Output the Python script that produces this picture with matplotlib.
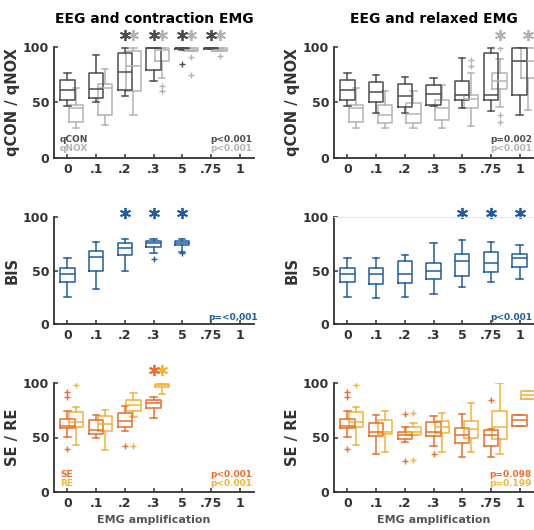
import matplotlib
matplotlib.use("Agg")
import matplotlib.pyplot as plt

plt.rcParams["font.family"] = ["DejaVu Sans"]
plt.rcParams["font.weight"] = "bold"

labels = ["0", ".1", ".2", ".3", "5", ".75", "1"]

# box stats per category: [whislo, q1, med, q3, whishi], None = no box
qcon_contr = [[47, 52, 61, 70.5, 76.5], [50, 54, 62, 77, 92.5], [56, 61.5, 77.5, 94.5, 99.5],
              [69.5, 79, 99, 99.2, 99.5], [97, 98, 99, 99.3, 99.6], [98, 98.5, 99, 99.3, 99.6], None]
qcon_contr_fl = [[], [], [], [], [85], [], []]
qnox_contr = [[27, 32.5, 45, 47.5, 63], [30, 38.5, 63, 66.5, 80.5], [38.5, 60.5, 83, 96, 99],
              [72, 87, 97.5, 99, 99.5], [96, 96.3, 97.5, 99, 99.5], [96, 96.5, 97.5, 99, 99.5], None]
qnox_contr_fl = [[], [], [], [65, 60.5], [91, 74.5], [91.5], []]
stars_con_contr = [2, 3, 4, 5]
stars_nox_contr = [2, 3, 4, 5]

qcon_relax = [[47, 52, 61, 70.5, 76.5], [40.5, 50, 59.5, 68.5, 74.5], [40.5, 46, 56, 67, 73],
              [47, 48, 58, 65.5, 72.5], [45, 52.5, 57, 69.5, 90], [42.5, 52.5, 57, 94.5, 99],
              [39, 57, 87.5, 99, 100]]
qcon_relax_fl = [[], [], [], [], [], [], []]
qnox_relax = [[27, 32.5, 45, 47.5, 63], [27, 31.5, 38.5, 47.5, 60], [27, 31.5, 39.5, 49.5, 60.5],
              [27, 34, 45, 52.5, 66], [29, 45, 53.5, 57, 76.5], [46, 62, 69.5, 77, 89],
              [43, 72, 87, 99, 100]]
qnox_relax_fl = [[], [], [], [], [88.5, 82.5], [99.5, 38.5, 32.5], []]
stars_con_relax = []
stars_nox_relax = [5, 6]

bis_contr = [[25.5, 39.5, 46.7, 52.6, 61.5], [32.5, 50, 62.3, 68.2, 76.3], [49.5, 64.5, 71.3, 76, 79.4],
             [66, 71.6, 75.4, 78, 79], [67.5, 73.8, 76, 78, 79], None, None]
bis_contr_fl = [[], [], [], [60.7], [66.5], [], []]
stars_bis_contr = [2, 3, 4]

bis_relax = [[25.5, 39.5, 46.7, 52.6, 61.5], [24.6, 37.4, 46.7, 52, 61.4], [24.9, 38.6, 46.7, 59.2, 64.5],
             [27.7, 42, 49.8, 56.7, 75.4], [34.9, 45.1, 58.8, 65, 78.5], [39.5, 48.3, 56.7, 67.6, 76.9],
             [41.7, 53.5, 61.5, 65, 73.8]]
bis_relax_fl = [[], [], [], [], [], [], []]
stars_bis_relax = [4, 5, 6]

se_contr = [[50.5, 58.5, 61, 67, 74], [50, 53, 57, 66, 71], [56, 60, 65.5, 72.5, 78.5],
            [67.5, 77, 81.5, 84, 87], None, None, None]
se_contr_fl = [[91.5, 87, 39.5], [], [42], [], [], [], []]
re_contr = [[43, 60, 64, 73, 78], [38.5, 56, 62, 70, 75.5], [69, 74, 80, 84, 91],
            [90, 96, 98, 99.5, 100], None, None, None]
re_contr_fl = [[98], [], [42.5], [], [], [], []]
stars_se_contr = [3]
stars_re_contr = [3]

se_relax = [[50.5, 58.5, 61, 67, 74], [35, 51, 55.5, 63, 70.5], [46, 48.5, 52, 55.5, 59.5],
            [42, 51, 55.5, 64, 69.5], [32, 45, 52.5, 58.5, 72], [32, 42, 52.5, 56.5, 58],
            [61, 61, 66.3, 71, 71]]
se_relax_fl = [[91.5, 87, 39.5], [], [71.5, 28], [35], [], [84], []]
re_relax = [[43, 60, 64, 73, 78], [37, 53, 55, 66.5, 74], [52.5, 52.5, 55.5, 59.5, 63],
            [37, 54, 60, 65, 72.5], [37, 49.5, 58, 65.5, 82], [35, 49, 60, 74, 100],
            [85, 85, 89, 93, 93]]
re_relax_fl = [[98], [], [72.5, 29.5], [], [], [], []]
stars_se_relax = []
stars_re_relax = []

GRAY_D = "#4d4d4d"
GRAY_L = "#b3b3b3"
BLUE = "#1f5d9e"
ORANGE = "#ea6f2d"
YELLOW = "#f0b43a"
AX_COL = "#333333"

fig = plt.figure(figsize=(5.34, 5.30), dpi=100)

lefts = [54 / 534, 334 / 534]
width = 200 / 534
rows = [(1 - 158 / 530, 111 / 530), (1 - 324 / 530, 107 / 530), (1 - 492 / 530, 109 / 530)]


def make_stats(boxes, fliers):
    out, pos = [], []
    for i, (b, f) in enumerate(zip(boxes, fliers)):
        if b is None:
            continue
        out.append(dict(whislo=b[0], q1=b[1], med=b[2], q3=b[3], whishi=b[4], fliers=f))
        pos.append(i + 1)
    return out, pos


def draw(ax, boxes, fliers, color, offset, stars, star_y):
    stats, pos = make_stats(boxes, fliers)
    pos = [p + offset for p in pos]
    lp = dict(color=color, linewidth=1.1)
    ax.bxp(stats, positions=pos, widths=0.5, capwidths=0.22,
           boxprops=lp, whiskerprops=lp, capprops=lp, medianprops=lp,
           flierprops=dict(marker="+", markeredgecolor=color, markersize=4, markeredgewidth=1.0))
    for s in stars:
        ax.plot(s + 1 + offset, star_y, marker=(6, 2, 0), markersize=8, markeredgewidth=1.3,
                color=color, clip_on=False)


def style(ax, ylabel, xlabel=None):
    ax.set_xlim(0.53, 7.5)
    ax.set_ylim(0, 100)
    ax.set_xticks(range(1, 8))
    ax.set_xticklabels(labels)
    ax.set_yticks([0, 50, 100])
    for sp in ["top", "right"]:
        ax.spines[sp].set_visible(False)
    for sp in ["left", "bottom"]:
        ax.spines[sp].set_color(AX_COL)
        ax.spines[sp].set_linewidth(1.3)
    ax.tick_params(direction="in", length=3, width=1.1, color=AX_COL, labelcolor=AX_COL,
                   labelsize=9)
    for t in ax.get_xticklabels() + ax.get_yticklabels():
        t.set_fontweight("bold")
    ax.set_ylabel(ylabel, fontsize=10.5, fontweight="bold", color=AX_COL, labelpad=2)
    if xlabel:
        ax.set_xlabel(xlabel, fontsize=8, fontweight="bold", color="#555555", labelpad=4)


panels = {}
for r, (b, h) in enumerate(rows):
    for c in range(2):
        panels[(r, c)] = fig.add_axes([lefts[c], b, width, h])

# row 1: qCON / qNOX
ax = panels[(0, 0)]
draw(ax, qnox_contr, qnox_contr_fl, GRAY_L, 0.3, stars_nox_contr, 111)
draw(ax, qcon_contr, qcon_contr_fl, GRAY_D, 0.0, stars_con_contr, 111)
style(ax, "qCON / qNOX")
ax.set_title("EEG and contraction EMG", fontsize=10, fontweight="bold", pad=17)
ax.text(0.03, 0.17, "qCON", transform=ax.transAxes, color=GRAY_D, fontsize=6.5, va="center")
ax.text(0.03, 0.09, "qNOX", transform=ax.transAxes, color=GRAY_L, fontsize=6.5, va="center")
ax.text(0.99, 0.17, "p<0.001", transform=ax.transAxes, color=GRAY_D, fontsize=6.5, va="center", ha="right")
ax.text(0.99, 0.09, "p<0.001", transform=ax.transAxes, color=GRAY_L, fontsize=6.5, va="center", ha="right")

ax = panels[(0, 1)]
draw(ax, qnox_relax, qnox_relax_fl, GRAY_L, 0.3, stars_nox_relax, 111)
draw(ax, qcon_relax, qcon_relax_fl, GRAY_D, 0.0, stars_con_relax, 111)
style(ax, "qCON / qNOX")
ax.set_title("EEG and relaxed EMG", fontsize=10, fontweight="bold", pad=17)
ax.text(0.99, 0.17, "p=0.002", transform=ax.transAxes, color=GRAY_D, fontsize=6.5, va="center", ha="right")
ax.text(0.99, 0.09, "p<0.001", transform=ax.transAxes, color=GRAY_L, fontsize=6.5, va="center", ha="right")

# row 2: BIS
ax = panels[(1, 0)]
draw(ax, bis_contr, bis_contr_fl, BLUE, 0.0, stars_bis_contr, 103.5)
style(ax, "BIS")
ax.text(1.02, 0.06, "p=<0,001", transform=ax.transAxes, color=BLUE, fontsize=6.5, va="center", ha="right")

ax = panels[(1, 1)]
draw(ax, bis_relax, bis_relax_fl, BLUE, 0.0, stars_bis_relax, 103.5)
style(ax, "BIS")
ax.spines["top"].set_visible(True)
ax.spines["top"].set_color("#e6e6e6")
ax.spines["top"].set_linewidth(0.8)
ax.text(0.99, 0.06, "p<0.001", transform=ax.transAxes, color=BLUE, fontsize=6.5, va="center", ha="right")

# row 3: SE / RE
ax = panels[(2, 0)]
draw(ax, re_contr, re_contr_fl, YELLOW, 0.3, stars_re_contr, 112)
draw(ax, se_contr, se_contr_fl, ORANGE, 0.0, stars_se_contr, 112)
style(ax, "SE / RE", "EMG amplification")
ax.text(0.03, 0.165, "SE", transform=ax.transAxes, color=ORANGE, fontsize=6.5, va="center")
ax.text(0.03, 0.08, "RE", transform=ax.transAxes, color=YELLOW, fontsize=6.5, va="center")
ax.text(0.99, 0.165, "p<0.001", transform=ax.transAxes, color=ORANGE, fontsize=6.5, va="center", ha="right")
ax.text(0.99, 0.08, "p<0.001", transform=ax.transAxes, color=YELLOW, fontsize=6.5, va="center", ha="right")

ax = panels[(2, 1)]
draw(ax, re_relax, re_relax_fl, YELLOW, 0.3, stars_re_relax, 112)
draw(ax, se_relax, se_relax_fl, ORANGE, 0.0, stars_se_relax, 112)
style(ax, "SE / RE", "EMG amplification")
ax.text(0.99, 0.165, "p=0.098", transform=ax.transAxes, color=ORANGE, fontsize=6.5, va="center", ha="right")
ax.text(0.99, 0.08, "p=0.199", transform=ax.transAxes, color=YELLOW, fontsize=6.5, va="center", ha="right")

fig.savefig("out.png", dpi=100)
